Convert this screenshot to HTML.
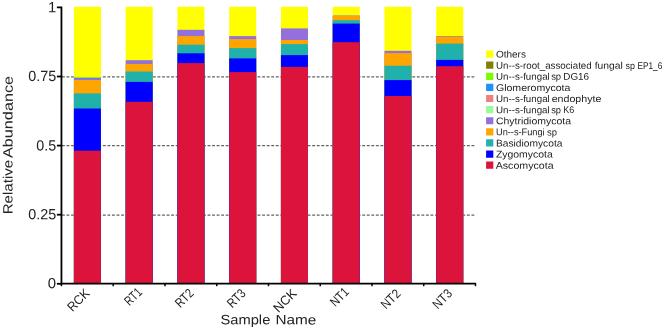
<!DOCTYPE html>
<html lang="en">
<head>
<meta charset="utf-8">
<title>Relative Abundance by Sample Name</title>
<style>
html,body{margin:0;padding:0;background:#fff;}
body{width:664px;height:329px;overflow:hidden;}
svg{display:block;}
text{font-family:"Liberation Sans",sans-serif;fill:#222222;}
.tick{font-size:14.8px;}
.xl{font-size:13px;}
.ttl{font-size:13.5px;}
.lg{font-size:9.7px;}
</style>
</head>
<body>
<svg width="664" height="329" viewBox="0 0 664 329">
<rect x="0" y="0" width="664" height="329" fill="#ffffff"/>

<g stroke="#626262" stroke-width="1.25" stroke-dasharray="2.85 1.7" fill="none">
<line x1="61.95" y1="215.00" x2="475.50" y2="215.00"/>
<line x1="61.95" y1="145.50" x2="475.50" y2="145.50"/>
<line x1="61.95" y1="76.75" x2="475.50" y2="76.75"/>
</g>
<g shape-rendering="auto">
<rect x="73.93" y="6.80" width="27.00" height="276.70" fill="#FFFF00"/>
<rect x="73.93" y="77.30" width="27.00" height="206.20" fill="#7CFC00"/>
<rect x="73.93" y="77.85" width="27.00" height="205.65" fill="#1E90FF"/>
<rect x="73.93" y="78.25" width="27.00" height="205.25" fill="#9370DB"/>
<rect x="73.93" y="80.00" width="27.00" height="203.50" fill="#FFA500"/>
<rect x="73.93" y="93.40" width="27.00" height="190.10" fill="#20B2AA"/>
<rect x="73.93" y="108.50" width="27.00" height="175.00" fill="#0000FF"/>
<rect x="73.93" y="150.70" width="27.00" height="132.80" fill="#DC143C"/>
<rect x="125.68" y="6.80" width="27.00" height="276.70" fill="#FFFF00"/>
<rect x="125.68" y="60.20" width="27.00" height="223.30" fill="#9370DB"/>
<rect x="125.68" y="63.90" width="27.00" height="219.60" fill="#FFA500"/>
<rect x="125.68" y="71.50" width="27.00" height="212.00" fill="#20B2AA"/>
<rect x="125.68" y="81.90" width="27.00" height="201.60" fill="#0000FF"/>
<rect x="125.68" y="101.80" width="27.00" height="181.70" fill="#DC143C"/>
<rect x="177.44" y="6.80" width="27.00" height="276.70" fill="#FFFF00"/>
<rect x="177.44" y="29.80" width="27.00" height="253.70" fill="#9370DB"/>
<rect x="177.44" y="36.10" width="27.00" height="247.40" fill="#FFA500"/>
<rect x="177.44" y="44.70" width="27.00" height="238.80" fill="#20B2AA"/>
<rect x="177.44" y="53.30" width="27.00" height="230.20" fill="#0000FF"/>
<rect x="177.44" y="63.10" width="27.00" height="220.40" fill="#DC143C"/>
<rect x="229.20" y="6.80" width="27.00" height="276.70" fill="#FFFF00"/>
<rect x="229.20" y="36.10" width="27.00" height="247.40" fill="#9370DB"/>
<rect x="229.20" y="39.10" width="27.00" height="244.40" fill="#FFA500"/>
<rect x="229.20" y="48.10" width="27.00" height="235.40" fill="#20B2AA"/>
<rect x="229.20" y="58.40" width="27.00" height="225.10" fill="#0000FF"/>
<rect x="229.20" y="72.10" width="27.00" height="211.40" fill="#DC143C"/>
<rect x="280.95" y="6.80" width="27.00" height="276.70" fill="#FFFF00"/>
<rect x="280.95" y="28.40" width="27.00" height="255.10" fill="#9370DB"/>
<rect x="280.95" y="40.00" width="27.00" height="243.50" fill="#FFA500"/>
<rect x="280.95" y="44.10" width="27.00" height="239.40" fill="#20B2AA"/>
<rect x="280.95" y="55.10" width="27.00" height="228.40" fill="#0000FF"/>
<rect x="280.95" y="66.90" width="27.00" height="216.60" fill="#DC143C"/>
<rect x="332.71" y="6.80" width="27.00" height="276.70" fill="#FFFF00"/>
<rect x="332.71" y="15.50" width="27.00" height="268.00" fill="#9370DB"/>
<rect x="332.71" y="16.00" width="27.00" height="267.50" fill="#FFA500"/>
<rect x="332.71" y="20.20" width="27.00" height="263.30" fill="#20B2AA"/>
<rect x="332.71" y="23.60" width="27.00" height="259.90" fill="#0000FF"/>
<rect x="332.71" y="42.20" width="27.00" height="241.30" fill="#DC143C"/>
<rect x="384.47" y="6.80" width="27.00" height="276.70" fill="#FFFF00"/>
<rect x="384.47" y="50.80" width="27.00" height="232.70" fill="#9370DB"/>
<rect x="384.47" y="53.10" width="27.00" height="230.40" fill="#FFA500"/>
<rect x="384.47" y="65.70" width="27.00" height="217.80" fill="#20B2AA"/>
<rect x="384.47" y="80.10" width="27.00" height="203.40" fill="#0000FF"/>
<rect x="384.47" y="96.00" width="27.00" height="187.50" fill="#DC143C"/>
<rect x="436.22" y="6.80" width="27.00" height="276.70" fill="#FFFF00"/>
<rect x="436.22" y="36.10" width="27.00" height="247.40" fill="#9370DB"/>
<rect x="436.22" y="36.60" width="27.00" height="246.90" fill="#FFA500"/>
<rect x="436.22" y="43.60" width="27.00" height="239.90" fill="#20B2AA"/>
<rect x="436.22" y="59.90" width="27.00" height="223.60" fill="#0000FF"/>
<rect x="436.22" y="66.20" width="27.00" height="217.30" fill="#DC143C"/>
</g>
<g stroke="#000" stroke-width="1.8" fill="none" stroke-linecap="butt">
<path d="M56.90 7.40 H61.45 V283.70 H476.10"/>
<line x1="56.9" y1="283.80" x2="61.45" y2="283.80"/>
<line x1="56.9" y1="214.70" x2="61.45" y2="214.70"/>
<line x1="56.9" y1="145.60" x2="61.45" y2="145.60"/>
<line x1="56.9" y1="76.50" x2="61.45" y2="76.50"/>
</g>
<g stroke="#000" stroke-width="1.5" fill="none">
<line x1="61.45" y1="283.80" x2="61.45" y2="286.20"/>
<line x1="113.21" y1="283.80" x2="113.21" y2="286.20"/>
<line x1="164.96" y1="283.80" x2="164.96" y2="286.20"/>
<line x1="216.72" y1="283.80" x2="216.72" y2="286.20"/>
<line x1="268.48" y1="283.80" x2="268.48" y2="286.20"/>
<line x1="320.23" y1="283.80" x2="320.23" y2="286.20"/>
<line x1="371.99" y1="283.80" x2="371.99" y2="286.20"/>
<line x1="423.74" y1="283.80" x2="423.74" y2="286.20"/>
<line x1="475.50" y1="283.80" x2="475.50" y2="286.20"/>
</g>
<g transform="rotate(0.03 332 165)">
<text class="tick" x="56.2" y="288.35" text-anchor="end" textLength="8.3" lengthAdjust="spacingAndGlyphs">0</text>
<text class="tick" x="56.2" y="219.45" text-anchor="end" textLength="27.9" lengthAdjust="spacingAndGlyphs">0.25</text>
<text class="tick" x="56.2" y="150.60" text-anchor="end" textLength="19.9" lengthAdjust="spacingAndGlyphs">0.5</text>
<text class="tick" x="56.2" y="81.20" text-anchor="end" textLength="27.9" lengthAdjust="spacingAndGlyphs">0.75</text>
<text class="tick" x="56.2" y="12.30" text-anchor="end" textLength="8.3" lengthAdjust="spacingAndGlyphs">1</text>
<text class="xl" text-anchor="end" textLength="25.5" lengthAdjust="spacingAndGlyphs" transform="translate(90.50,294.30) rotate(-45)">RCK</text>
<text class="xl" text-anchor="end" textLength="18.7" lengthAdjust="spacingAndGlyphs" transform="translate(142.90,293.20) rotate(-45)">RT1</text>
<text class="xl" text-anchor="end" textLength="20.1" lengthAdjust="spacingAndGlyphs" transform="translate(194.50,294.10) rotate(-45)">RT2</text>
<text class="xl" text-anchor="end" textLength="20.1" lengthAdjust="spacingAndGlyphs" transform="translate(246.50,294.30) rotate(-45)">RT3</text>
<text class="xl" text-anchor="end" textLength="26.9" lengthAdjust="spacingAndGlyphs" transform="translate(297.50,294.30) rotate(-45)">NCK</text>
<text class="xl" text-anchor="end" textLength="20.6" lengthAdjust="spacingAndGlyphs" transform="translate(349.90,292.80) rotate(-45)">NT1</text>
<text class="xl" text-anchor="end" textLength="21.9" lengthAdjust="spacingAndGlyphs" transform="translate(401.50,294.30) rotate(-45)">NT2</text>
<text class="xl" text-anchor="end" textLength="21.7" lengthAdjust="spacingAndGlyphs" transform="translate(453.10,294.30) rotate(-45)">NT3</text>
<text class="ttl" y="324.40"><tspan x="220.6" textLength="49.8" lengthAdjust="spacingAndGlyphs">Sample</tspan> <tspan x="275.6" textLength="40.8" lengthAdjust="spacingAndGlyphs">Name</tspan></text>
<text class="ttl" y="0.00" transform="translate(12.6,0) rotate(-90)"><tspan x="-214.5" textLength="54.6" lengthAdjust="spacingAndGlyphs">Relative</tspan> <tspan x="-158.1" textLength="81.9" lengthAdjust="spacingAndGlyphs">Abundance</tspan></text>
<rect x="486.1" y="50.40" width="7.2" height="7.2" fill="#FFFF00"/>
<text class="lg" y="57.50"><tspan x="495.9" textLength="30.0" lengthAdjust="spacingAndGlyphs">Others</tspan></text>
<rect x="486.1" y="61.51" width="7.2" height="7.2" fill="#808000"/>
<text class="lg" y="68.61"><tspan x="496.0" textLength="95.6" lengthAdjust="spacingAndGlyphs">Un--s-root_associated</tspan> <tspan x="594.6" textLength="28.2" lengthAdjust="spacingAndGlyphs">fungal</tspan> <tspan x="625.4" textLength="9.4" lengthAdjust="spacingAndGlyphs">sp</tspan> <tspan x="637.4" textLength="24.8" lengthAdjust="spacingAndGlyphs">EP1_6</tspan></text>
<rect x="486.1" y="72.62" width="7.2" height="7.2" fill="#7CFC00"/>
<text class="lg" y="79.72"><tspan x="496.0" textLength="53.7" lengthAdjust="spacingAndGlyphs">Un--s-fungal</tspan> <tspan x="551.1" textLength="10.0" lengthAdjust="spacingAndGlyphs">sp</tspan> <tspan x="563.3" textLength="25.7" lengthAdjust="spacingAndGlyphs">DG16</tspan></text>
<rect x="486.1" y="83.73" width="7.2" height="7.2" fill="#1E90FF"/>
<text class="lg" y="90.83"><tspan x="495.9" textLength="74.5" lengthAdjust="spacingAndGlyphs">Glomeromycota</tspan></text>
<rect x="486.1" y="94.84" width="7.2" height="7.2" fill="#F08080"/>
<text class="lg" y="101.94"><tspan x="496.0" textLength="53.7" lengthAdjust="spacingAndGlyphs">Un--s-fungal</tspan> <tspan x="551.6" textLength="49.7" lengthAdjust="spacingAndGlyphs">endophyte</tspan></text>
<rect x="486.1" y="105.95" width="7.2" height="7.2" fill="#98FB98"/>
<text class="lg" y="113.05"><tspan x="496.0" textLength="53.7" lengthAdjust="spacingAndGlyphs">Un--s-fungal</tspan> <tspan x="551.2" textLength="9.8" lengthAdjust="spacingAndGlyphs">sp</tspan> <tspan x="563.3" textLength="10.9" lengthAdjust="spacingAndGlyphs">K6</tspan></text>
<rect x="486.1" y="117.06" width="7.2" height="7.2" fill="#9370DB"/>
<text class="lg" y="124.16"><tspan x="495.9" textLength="75.1" lengthAdjust="spacingAndGlyphs">Chytridiomycota</tspan></text>
<rect x="486.1" y="128.17" width="7.2" height="7.2" fill="#FFA500"/>
<text class="lg" y="135.27"><tspan x="496.0" textLength="48.6" lengthAdjust="spacingAndGlyphs">Un--s-Fungi</tspan> <tspan x="546.9" textLength="10.0" lengthAdjust="spacingAndGlyphs">sp</tspan></text>
<rect x="486.1" y="139.28" width="7.2" height="7.2" fill="#20B2AA"/>
<text class="lg" y="146.38"><tspan x="496.0" textLength="66.4" lengthAdjust="spacingAndGlyphs">Basidiomycota</tspan></text>
<rect x="486.1" y="150.39" width="7.2" height="7.2" fill="#0000FF"/>
<text class="lg" y="157.49"><tspan x="495.9" textLength="56.9" lengthAdjust="spacingAndGlyphs">Zygomycota</tspan></text>
<rect x="486.1" y="161.50" width="7.2" height="7.2" fill="#DC143C"/>
<text class="lg" y="168.60"><tspan x="495.7" textLength="57.9" lengthAdjust="spacingAndGlyphs">Ascomycota</tspan></text>
</g>
</svg>
</body>
</html>
